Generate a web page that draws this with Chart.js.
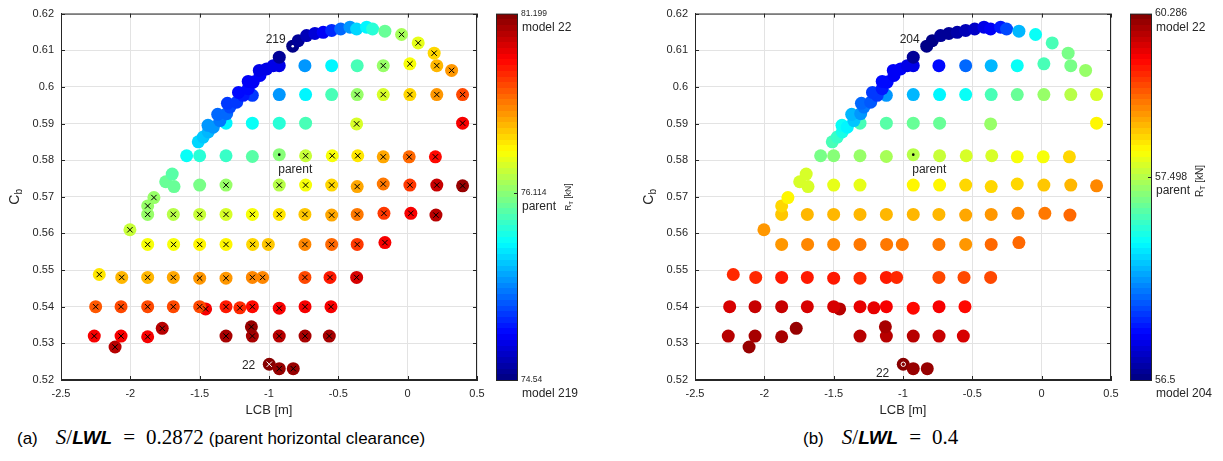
<!DOCTYPE html>
<html>
<head>
<meta charset="utf-8">
<script src="https://cdn.jsdelivr.net/npm/chart.js@4.4.1/dist/chart.umd.min.js"></script>
<style>
  body { margin: 0; background: #fff; width: 1223px; height: 461px; position: relative; overflow: hidden;
         font-family: "Liberation Sans", Arial, sans-serif; }
  .panel { position: absolute; top: 0; width: 611px; height: 420px; }
  .cap { position: absolute; top: 425px; font-size: 17px; color: #000; white-space: nowrap; }
  .tag { margin-right: 18px; }
  .mi { font-family: "Liberation Serif", "DejaVu Serif", serif; font-style: italic; font-size: 21px; }
  .mr { font-family: "Liberation Serif", "DejaVu Serif", serif; font-size: 21px; }
  .eq { margin: 0 11px; }
  .bi { font-weight: bold; font-style: italic; font-size: 19px; }
  .rest { margin-left: 5px; }
</style>
</head>
<body>
<div class="panel" style="left:0"><canvas id="chartA" width="611" height="420"></canvas></div>
<div class="panel" style="left:612px"><canvas id="chartB" width="611" height="420"></canvas></div>
<div class="cap" style="left:17px"><span class="tag">(a)</span><span class="mi">S</span><span class="mr">/</span><span class="bi">LWL</span><span class="mr eq">=</span><span class="mr">0.2872</span><span class="rest">(parent horizontal clearance)</span></div>
<div class="cap" style="left:803px"><span class="tag">(b)</span><span class="mi">S</span><span class="mr">/</span><span class="bi">LWL</span><span class="mr eq">=</span><span class="mr">0.4</span></div>
<script>
// hull variants: LCB [m] and block coefficient, same set for both clearances
const lcb = [
  -0.998, -0.926, -0.825,
  -2.11, -2.26, -2.067, -1.875, -1.77, -1.31, -1.12, -1.127, -0.926, -0.74, -0.565,
  -2.25, -2.067, -1.875, -1.69, -1.457, -1.5, -1.31, -1.21, -1.12, -0.926, -0.74, -0.553,
  -2.224, -2.062, -1.875, -1.69, -1.5, -1.31, -1.12, -1.046, -0.741, -0.56, -0.368,
  -1.875, -1.688, -1.5, -1.31, -1.118, -1.005, -0.741, -0.548, -0.364, -0.164,
  -2.003,
  -1.875, -1.69, -1.5, -1.31, -1.12, -0.926, -0.741, -0.548, -0.364, -0.171, 0.023, 0.204,
  -1.875, -1.83,
  -1.745, -1.698, -1.685, -1.5, -1.31, -0.926, -0.736, -0.548, -0.364, -0.176, 0.016, 0.21, 0.396,
  -1.594, -1.5, -1.31, -1.12, -0.926, -0.736, -0.544, -0.36, -0.176, 0.011, 0.2,
  -1.31, -1.12, -0.926, -0.736, -0.368, 0.396,
  -1.12, -0.926, -0.736, -0.548, -0.364, -0.176, 0.016, 0.21, 0.396,
  -0.741, -0.548, -0.364, -0.176, 0.016, 0.21,
  -1.51, -1.474, -1.438, -1.44, -1.402, -1.354, -1.37, -1.305, -1.282, -1.30, -1.233,
  -1.186, -1.22, -1.15, -1.114, -1.15, -1.065, -1.07, -1.017, -0.969, -0.926, -0.926,
  -0.829, -0.789, -0.729, -0.669, -0.609, -0.548, -0.483, -0.416, -0.368, -0.296,
  -0.253, -0.164, -0.044, 0.076, 0.191, 0.317
];
const cb = [
  0.5243, 0.5231, 0.5231,
  0.5290, 0.5320, 0.5320, 0.5318, 0.5341, 0.5320, 0.5320, 0.5345, 0.5320, 0.5320, 0.5320,
  0.5400, 0.5400, 0.5400, 0.5400, 0.5394, 0.5400, 0.5400, 0.5397, 0.5400, 0.5396, 0.5400, 0.5400,
  0.5488, 0.5480, 0.5480, 0.5480, 0.5478, 0.5478, 0.5480, 0.5480, 0.5480, 0.5480, 0.5480,
  0.5570, 0.5570, 0.5570, 0.5570, 0.5570, 0.5570, 0.5570, 0.5570, 0.5570, 0.5575,
  0.5610,
  0.5652, 0.5652, 0.5652, 0.5652, 0.5652, 0.5652, 0.5652, 0.5650, 0.5652, 0.5655, 0.5655, 0.5650,
  0.5675, 0.5698,
  0.5741, 0.5762, 0.5728, 0.5732, 0.5732, 0.5732, 0.5732, 0.5732, 0.5728, 0.5735, 0.5732, 0.5732, 0.5730,
  0.5812, 0.5812, 0.5812, 0.5810, 0.5815, 0.5812, 0.5812, 0.5812, 0.5809, 0.5809, 0.5809,
  0.5901, 0.5901, 0.5901, 0.5901, 0.5899, 0.5901,
  0.5977, 0.5979, 0.5979, 0.5979, 0.5979, 0.5979, 0.5979, 0.5979, 0.5979,
  0.6058, 0.6058, 0.6058, 0.6058, 0.6063, 0.6058,
  0.5850, 0.5863, 0.5877, 0.5895, 0.5890, 0.5908, 0.5925, 0.5927, 0.5945, 0.5955, 0.5958,
  0.5977, 0.5985, 0.5995, 0.6013, 0.6015, 0.6031, 0.6045, 0.6049, 0.6058, 0.6058, 0.6081,
  0.6111, 0.6126, 0.6140, 0.6146, 0.6149, 0.6154, 0.6158, 0.6163, 0.6158, 0.6163,
  0.6158, 0.6152, 0.6143, 0.6120, 0.6092, 0.6045
];
// total resistance R_T [kN], (a) S/LWL = 0.2872
const rtA = [
  81.199, 80.89, 80.89,
  80.68, 79.95, 80.06, 79.95, 80.68, 80.78, 80.78, 80.89, 80.68, 80.78, 80.78,
  79.02, 79.12, 79.12, 79.12, 79.95, 79.23, 79.64, 79.54, 79.75, 79.95, 80.06, 80.06,
  77.57, 78.09, 78.09, 78.19, 78.29, 78.29, 78.60, 78.60, 79.12, 79.64, 80.37,
  77.26, 77.26, 77.36, 77.46, 77.67, 77.88, 78.50, 78.92, 79.33, 79.95,
  76.74,
  76.32, 76.63, 76.74, 76.94, 77.26, 77.57, 77.88, 78.19, 78.71, 79.33, 79.95, 80.68,
  76.22, 76.32,
  75.99, 75.96, 76.02, 76.08, 76.32, 76.63, 77.26, 77.67, 78.19, 78.71, 79.33, 80.47, 80.99,
  75.71, 75.81, 75.87, 75.96, 76.114, 76.74, 77.26, 77.57, 78.19, 78.81, 79.85,
  75.68, 75.71, 75.84, 75.93, 76.84, 79.95,
  75.10, 75.40, 75.68, 75.90, 76.32, 76.94, 77.67, 78.29, 79.12,
  75.40, 75.68, 75.90, 76.32, 77.26, 77.98,
  75.56, 75.53, 75.47, 75.37, 75.40, 75.31, 75.22, 75.22, 75.16, 75.10, 75.10,
  75.00, 74.97, 74.94, 74.91, 74.91, 74.88, 74.85, 74.85, 74.85, 74.85, 74.60,
  74.54, 74.60, 74.69, 74.79, 74.91, 75.06, 75.22, 75.40, 75.56, 75.68,
  75.81, 75.99, 76.43, 77.05, 77.77, 78.40
];
// total resistance R_T [kN], (b) S/LWL = 0.4
const rtB = [
  60.286, 60.10, 60.10,
  60.16, 59.97, 60.04, 60.04, 60.10, 59.97, 59.97, 60.04, 59.91, 59.85, 59.73,
  59.79, 59.85, 59.85, 59.79, 59.97, 59.79, 59.66, 59.66, 59.60, 59.47, 59.54, 59.47,
  59.22, 59.22, 59.35, 59.35, 59.35, 59.29, 59.35, 59.22, 59.10, 59.10, 59.04,
  58.60, 58.66, 58.72, 58.79, 58.79, 58.79, 58.79, 58.54, 58.85, 58.91,
  58.54,
  58.29, 58.35, 58.41, 58.41, 58.41, 58.35, 58.35, 58.47, 58.54, 58.66, 58.79, 58.91,
  58.16, 57.97,
  57.66, 57.66, 57.72, 57.79, 57.79, 57.97, 57.97, 58.16, 58.22, 58.22, 58.29, 58.41, 58.66,
  57.40, 57.42, 57.45, 57.47, 57.498, 57.60, 57.66, 57.66, 57.85, 57.91, 58.16,
  57.29, 57.33, 57.35, 57.36, 57.45, 57.97,
  57.00, 57.04, 57.17, 57.20, 57.29, 57.36, 57.44, 57.54, 57.72,
  56.75, 56.90, 57.04, 57.20, 57.31, 57.40,
  57.31, 57.27, 57.22, 57.18, 57.17, 57.09, 57.04, 57.00, 56.95, 56.91, 56.88,
  56.82, 56.81, 56.77, 56.73, 56.73, 56.72, 56.70, 56.70, 56.68, 56.68, 56.55,
  56.50, 56.52, 56.54, 56.55, 56.57, 56.61, 56.64, 56.68, 56.72, 56.77,
  56.86, 57.04, 57.18, 57.29, 57.40, 57.45
];
const xTicks = [-2.5, -2, -1.5, -1, -0.5, 0, 0.5];
const yTicks = [0.52, 0.53, 0.54, 0.55, 0.56, 0.57, 0.58, 0.59, 0.6, 0.61, 0.62];
// colour bar: bottom, parent and top values; parent sits at a fixed height of the bar
const cbarA = { min: 74.54, parent: 76.114, max: 81.199, parentFrac: 0.51, minName: 'model 219', maxName: 'model 22' };
const cbarB = { min: 56.5, parent: 57.498, max: 60.286, parentFrac: 0.554, minName: 'model 204', maxName: 'model 22' };

const FONT = '"Liberation Sans", Arial, sans-serif';
const INK = '#262626';

function jet(f) {
  const k = Math.min(63, Math.max(0, Math.floor(f * 64)));
  const t = (k + 0.5) / 64;
  const c = v => Math.round(255 * Math.min(1, Math.max(0, v)));
  return `rgb(${c(1.5 - Math.abs(4 * t - 3))},${c(1.5 - Math.abs(4 * t - 2))},${c(1.5 - Math.abs(4 * t - 1))})`;
}

function toFrac(v, bar) {
  if (v <= bar.parent) return (v - bar.min) / (bar.parent - bar.min) * bar.parentFrac;
  return bar.parentFrac + (v - bar.parent) / (bar.max - bar.parent) * (1 - bar.parentFrac);
}

function rotatedText(ctx, cx, cy, parts, size) {
  ctx.save();
  ctx.translate(cx, cy);
  ctx.rotate(-Math.PI / 2);
  ctx.textBaseline = 'middle';
  ctx.textAlign = 'left';
  let w = 0;
  parts.forEach(p => { ctx.font = `${p.sub ? size * 0.72 : size}px ${FONT}`; w += ctx.measureText(p.t).width; });
  let x = -w / 2;
  parts.forEach(p => {
    ctx.font = `${p.sub ? size * 0.72 : size}px ${FONT}`;
    ctx.fillText(p.t, x, p.sub ? size * 0.32 : 0);
    x += ctx.measureText(p.t).width;
  });
  ctx.restore();
}

const decor = {
  id: 'decor',
  beforeDatasetsDraw(chart, args, o) {
    const { ctx, chartArea: a, scales } = chart;
    ctx.save();
    ctx.strokeStyle = INK;
    ctx.lineWidth = 1;
    ctx.strokeRect(a.left + 0.5, a.top + 0.5, a.width - 1, a.height - 1);
    ctx.beginPath();
    xTicks.forEach(v => {
      const x = Math.round(scales.x.getPixelForValue(v)) + 0.5;
      ctx.moveTo(x, a.bottom); ctx.lineTo(x, a.bottom - 4);
      ctx.moveTo(x, a.top); ctx.lineTo(x, a.top + 4);
    });
    yTicks.forEach(v => {
      const y = Math.round(scales.y.getPixelForValue(v)) + 0.5;
      ctx.moveTo(a.left, y); ctx.lineTo(a.left + 4, y);
      ctx.moveTo(a.right, y); ctx.lineTo(a.right - 4, y);
    });
    ctx.stroke();
    ctx.restore();
  },
  afterDraw(chart, args, o) {
    const { ctx, chartArea: a, scales } = chart;
    ctx.save();
    ctx.fillStyle = INK;
    // axis titles
    ctx.font = `13px ${FONT}`;
    ctx.textAlign = 'center';
    ctx.textBaseline = 'middle';
    ctx.fillText('LCB [m]', (a.left + a.right) / 2, a.bottom + 30);
    rotatedText(ctx, a.left - 46, (a.top + a.bottom) / 2, [{ t: 'C' }, { t: 'b', sub: true }], 14);

    // point annotations
    ctx.font = `12px ${FONT}`;
    o.notes.forEach(n => {
      ctx.textAlign = n.align;
      ctx.fillText(n.text, scales.x.getPixelForValue(lcb[n.i]) + n.dx, scales.y.getPixelForValue(cb[n.i]) + n.dy);
    });

    // colour bar
    const bar = o.bar, L = o.cbarLeft, W = 21, h = a.bottom - a.top;
    for (let k = 0; k < 64; k++) {
      const y0 = Math.round(a.bottom - (k + 1) / 64 * h), y1 = Math.round(a.bottom - k / 64 * h);
      ctx.fillStyle = jet((k + 0.5) / 64);
      ctx.fillRect(L, y0, W, y1 - y0);
    }
    ctx.strokeStyle = INK;
    ctx.lineWidth = 1;
    ctx.strokeRect(L + 0.5, a.top + 0.5, W, h);
    const marks = [
      { f: 0, v: String(bar.min), name: bar.minName },
      { f: bar.parentFrac, v: String(bar.parent), name: 'parent' },
      { f: 1, v: String(bar.max), name: bar.maxName }
    ];
    ctx.beginPath();
    marks.forEach(m => {
      const y = Math.round(a.bottom - m.f * h) + 0.5;
      ctx.moveTo(L + W, y); ctx.lineTo(L + W - 3, y);
    });
    ctx.stroke();
    ctx.fillStyle = INK;
    ctx.textAlign = 'left';
    marks.forEach(m => {
      const y = a.bottom - m.f * h;
      ctx.font = `${o.valueFont}px ${FONT}`;
      ctx.fillText(m.v, L + W + 4, y);
      ctx.font = `${o.nameFont}px ${FONT}`;
      ctx.fillText(m.name, L + W + 5, y + 14);
    });
    rotatedText(ctx, L + W + o.unitDx, a.bottom - bar.parentFrac * h + 4,
      [{ t: 'R' }, { t: 'T', sub: true }, { t: ' [kN]' }], o.unitFont);
    ctx.restore();
  }
};

function buildPanel(id, rt, bar, p) {
  const pts = lcb.map((x, i) => ({ x, y: cb[i] }));
  const colours = rt.map(v => jet(toFrac(v, bar)));
  const iParent = rt.indexOf(bar.parent);
  const iMax = rt.indexOf(Math.max(...rt));
  const iMin = rt.indexOf(Math.min(...rt));
  const crossIdx = p.crossAboveParent ? rt.map((v, i) => i).filter(i => rt[i] > bar.parent) : [];

  const markIdx = [iParent, ...p.dotMin ? [iMin] : [], ...p.ringMax ? [iMax] : []];
  const markFill = markIdx.map(i => i === iParent ? '#000' : (i === iMax ? colours[i] : '#fff'));
  const markBorder = markIdx.map(i => i === iMax ? '#fff' : 'rgba(0,0,0,0)');
  const markRadius = markIdx.map(i => i === iMax ? 2.2 : 1.3);

  const notes = [
    { i: iMin, text: p.minLabel, dx: -7, dy: -7, align: 'right' },
    { i: iParent, text: 'parent', dx: -1, dy: 15, align: 'left' },
    { i: iMax, text: '22', dx: -14, dy: p.dy22, align: 'right' }
  ];

  return new Chart(document.getElementById(id), {
    type: 'scatter',
    data: {
      datasets: [
        {
          data: markIdx.map(i => pts[i]),
          pointRadius: markRadius,
          pointBackgroundColor: markFill,
          pointBorderColor: markBorder,
          pointBorderWidth: markIdx.map(i => i === iMax ? 1 : 0),
          order: 1
        },
        {
          data: crossIdx.map(i => pts[i]),
          pointStyle: 'crossRot',
          pointRadius: 3.8,
          pointBorderColor: crossIdx.map(i => i === iMax ? '#fff' : '#000'),
          pointBorderWidth: 1,
          order: 2
        },
        {
          data: pts,
          pointRadius: 6.5,
          pointBackgroundColor: colours,
          pointBorderWidth: 0,
          order: 3
        }
      ]
    },
    options: {
      responsive: false,
      animation: false,
      events: [],
      devicePixelRatio: 1,
      layout: { padding: { left: 0, right: p.padRight, top: 13, bottom: 0 } },
      plugins: {
        legend: { display: false },
        tooltip: { enabled: false },
        decor: { notes, bar, cbarLeft: p.cbarLeft, valueFont: p.valueFont, nameFont: p.nameFont,
                 unitFont: p.unitFont, unitDx: p.unitDx }
      },
      scales: {
        x: {
          type: 'linear', min: -2.5, max: 0.5,
          afterBuildTicks: s => { s.ticks = xTicks.map(v => ({ value: v })); },
          afterFit: s => { s.height = 40; },
          ticks: { callback: v => String(v), font: { size: 11, family: FONT }, color: INK, padding: 7, maxRotation: 0 },
          grid: { color: '#e3e3e3', drawTicks: false },
          border: { color: INK }
        },
        y: {
          type: 'linear', min: 0.52, max: 0.62,
          afterBuildTicks: s => { s.ticks = yTicks.map(v => ({ value: v })); },
          afterFit: s => { s.width = p.yAxisWidth; },
          ticks: { callback: v => String(v), font: { size: 11, family: FONT }, color: INK, padding: 7 },
          grid: { color: '#e3e3e3', drawTicks: false },
          border: { color: INK }
        }
      }
    },
    plugins: [decor]
  });
}

buildPanel('chartA', rtA, cbarA, {
  yAxisWidth: 61, padRight: 134, cbarLeft: 496, crossAboveParent: true, dotMin: true, ringMax: false,
  minLabel: '219', dy22: 1, valueFont: 8.5, nameFont: 12, unitFont: 8.5, unitDx: 52
});
buildPanel('chartB', rtB, cbarB, {
  yAxisWidth: 83, padRight: 112, cbarLeft: 518, crossAboveParent: false, dotMin: false, ringMax: true,
  minLabel: '204', dy22: 9, valueFont: 10.5, nameFont: 12, unitFont: 10, unitDx: 49
});
</script>
</body>
</html>
